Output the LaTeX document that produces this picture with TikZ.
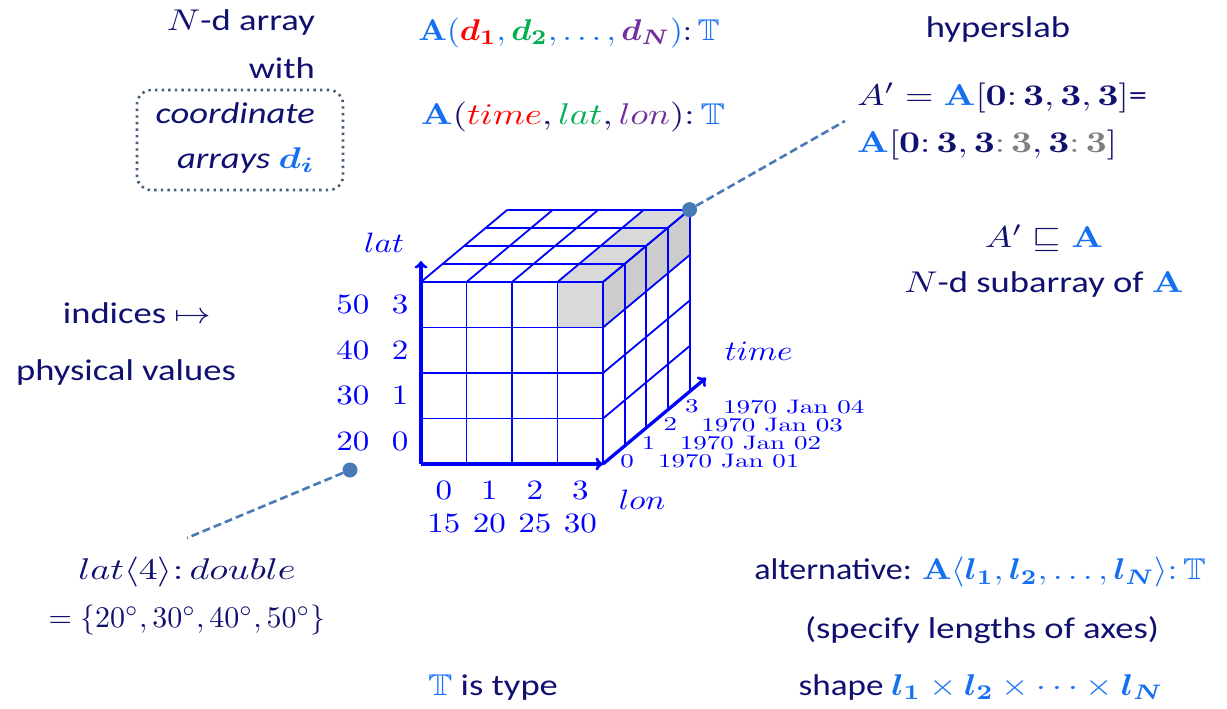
\documentclass[tikz,border=0pt]{standalone}
\usepackage[no-math]{fontspec}
\setmainfont{Carlito}
\usepackage{amsmath,amssymb}
\usepackage{graphicx}

\definecolor{navy}{RGB}{16,16,112}
\definecolor{ablue}{RGB}{20,112,240}
\definecolor{dred}{RGB}{255,0,0}
\definecolor{dgreen}{RGB}{0,176,80}
\definecolor{dpurple}{RGB}{112,48,160}
\definecolor{slabgray}{RGB}{128,128,128}
\definecolor{leader}{RGB}{72,122,182}
\definecolor{boxline}{RGB}{68,94,124}

\newcommand{\wx}[2][3.66]{\scalebox{#1}[3]{#2}}
\newcommand{\bA}{\textcolor{ablue}{\mathbf{A}}}
\newcommand{\tcol}{\mathpunct{:}}
\newcommand{\cubelbl}[1]{\scalebox{3.3}[2.8]{$#1$}}
\newcommand{\datelbl}[1]{\scalebox{2.7}[1.95]{\usefont{OT1}{cmr}{m}{n}#1}}

\tikzset{
  txt/.style={inner sep=0pt, text=navy},
  coordbox/.style={draw=boxline, line width=2.6pt, dash pattern=on 2.4pt off 4.2pt,
    rounded corners=14pt, minimum width=206pt, minimum height=100pt},
  gridline/.style={blue, line width=1.8pt},
  cubeaxis/.style={blue, line width=3.3pt, ->},
  cubenum/.style={inner sep=0pt, text=blue},
  pindot/.style={circle, fill=leader, inner sep=0pt, minimum size=15pt},
  leaderline/.style={leader, line width=2.6pt, dash pattern=on 8pt off 4pt},
}

\begin{document}
\begin{tikzpicture}[x=1pt, y=-1pt]
  \useasboundingbox (0,0) rectangle (1227,709);

  % left column
  \node[txt, anchor=east] (ndarr) at (315,23) {\wx{$N$-d array}};
  \node[txt, anchor=east] (withl) at (315,68) {\wx{with}};
  \node[coordbox] (cbox) at (240,140) {};
  \node[txt, anchor=east] (coordl) at (315,113) {\wx{\itshape coordinate}};
  \node[txt, anchor=east] (arrl) at (315,160)
    {\wx{\itshape arrays $\textcolor{ablue}{\boldsymbol{d_i}}$}};
  \node[txt] (idxmap) at (137,313) {\wx{indices $\mapsto$}};
  \node[txt] (physv) at (126,372) {\wx{physical values}};
  \node[txt] (latdef) at (187,572) {\wx[3.8]{$lat\langle 4\rangle\tcol double$}};
  \node[txt] (latval) at (187,620)
    {\wx[3.0]{$=\{20^\circ, 30^\circ, 40^\circ, 50^\circ\}$}};

  % signatures
  \node[txt] (sigA) at (569,33) {\wx[3.3]{$\color{ablue}\mathbf{A}(\textcolor{dred}{\boldsymbol{d_1}},
    \textcolor{dgreen}{\boldsymbol{d_2}}, \dots, \textcolor{dpurple}{\boldsymbol{d_N}})
    \mathpunct{\textcolor{navy}{:}}\mathbb{T}$}};
  \node[txt] (sigB) at (573,117) {\wx{$\bA(\textcolor{dred}{time}, \textcolor{dgreen}{lat},
    \textcolor{dpurple}{lon})\tcol \textcolor{ablue}{\mathbb{T}}$}};
  \node[txt] (ttype) at (493,688) {\wx{$\textcolor{ablue}{\mathbb{T}}$ is type}};

  % hyperslab
  \node[txt] (hslab) at (998,30) {\wx{hyperslab}};
  \node[txt, anchor=west] (slabA) at (857,98)
    {\wx{$A' = \bA[\mathbf{0}\mathpunct{\mathbf{:}}\mathbf{3}, \mathbf{3}, \mathbf{3}]$=}};
  \node[txt, anchor=west] (slabB) at (857,145)
    {\wx{$\bA[\mathbf{0}\mathpunct{\mathbf{:}}\mathbf{3}, \mathbf{3}\textcolor{slabgray}{\mathpunct{:}\mathbf{3}},
    \mathbf{3}\textcolor{slabgray}{\mathpunct{:}\mathbf{3}}]$}};
  \node[txt] (subrel) at (1044,238) {\wx{$A' \sqsubseteq \bA$}};
  \node[txt] (subarr) at (1044,285) {\wx{$N$-d subarray of $\bA$}};

  % alternative
  \node[txt] (alt) at (980,572) {\wx[3.4]{alternative: $\color{ablue}\mathbf{A}\langle \boldsymbol{l_1},
    \boldsymbol{l_2}, \dots, \boldsymbol{l_N}\rangle\tcol \mathbb{T}$}};
  \node[txt] (spec) at (982,630) {\wx{(specify lengths of axes)}};
  \node[txt] (shapel) at (981,687) {\wx[3.51]{shape $\color{ablue}\boldsymbol{l_1} \times
    \boldsymbol{l_2} \times \cdots \times \boldsymbol{l_N}$}};

  % the cube
  \begin{scope}[shift={(421,464)}, x={(45.5pt,0pt)}, y={(0pt,45.5pt)}, z={(21.65pt,18.1pt)}]
    \fill[gray!30] (3,3,0) rectangle (4,4,0);
    \fill[gray!30] (3,4,0) -- (4,4,0) -- (4,4,4) -- (3,4,4) -- cycle;
    \fill[gray!40] (4,3,0) -- (4,4,0) -- (4,4,4) -- (4,3,4) -- cycle;
    \foreach \i in {0,...,4} {
      \draw[gridline] (\i,0,0) -- (\i,4,0);
      \draw[gridline] (0,\i,0) -- (4,\i,0);
      \draw[gridline] (\i,4,0) -- (\i,4,4);
      \draw[gridline] (0,4,\i) -- (4,4,\i);
      \draw[gridline] (4,\i,0) -- (4,\i,4);
      \draw[gridline] (4,0,\i) -- (4,4,\i);
    }
    \draw[cubeaxis] (0,0,0) -- (0,4.46,0);
    \draw[cubeaxis] (0,0,0) -- (4,0,0);
    \draw[cubeaxis] (4,0,0) -- (4,0,4.76);
    \node[cubenum] (latname) at (-0.81,4.86,0) {\cubelbl{lat}};
    \node[cubenum] (lonname) at (4.86,-0.79,0) {\cubelbl{lon}};
    \node[cubenum] (timename) at (5.16,0.59,4.75) {\cubelbl{time}};
    \foreach \i/\v in {0/20,1/30,2/40,3/50} {
      \node[cubenum] (li\i) at (-0.46,\i+0.5,0) {\cubelbl{\i}};
      \node[cubenum] (lv\i) at (-1.5,\i+0.5,0) {\cubelbl{\v}};
    }
    \foreach \i/\v in {0/15,1/20,2/25,3/30} {
      \node[cubenum] (oi\i) at (\i+0.5,-0.59,0) {\cubelbl{\i}};
      \node[cubenum] (ov\i) at (\i+0.5,-1.3,0) {\cubelbl{\v}};
    }
    \foreach \i/\j in {0/1,1/2,2/3,3/4} {
      \node[cubenum] (ti\i) at (4.29,-0.13,\i+0.5) {\datelbl{\i}};
      \node[cubenum, anchor=west] (td\i) at (4.97,-0.13,\i+0.5) {\datelbl{1970 Jan 0\j}};
    }
    \node[pindot] (slabdot) at (4,4,4) {};
  \end{scope}

  % leaders
  \node[pindot] (latdot) at (350,470) {};
  \coordinate (slabend) at (845,121);
  \coordinate (latend) at (187,538);
  \draw[leaderline] (slabdot) -- (slabend);
  \draw[leaderline] (latdot) -- (latend);
\end{tikzpicture}
\end{document}
